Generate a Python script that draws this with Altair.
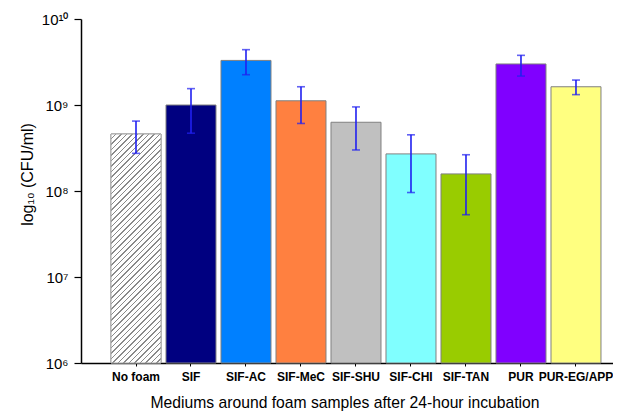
import math
import altair as alt
import pandas as pd

categories = ["No foam", "SIF", "SIF-AC", "SIF-MeC", "SIF-SHU", "SIF-CHI", "SIF-TAN", "PUR", "PUR-EG/APP"]
means = [4.6e8, 1.0e9, 3.3e9, 1.12e9, 6.3e8, 2.7e8, 1.58e8, 3.0e9, 1.63e9]
err_hi = [6.5e8, 1.55e9, 4.4e9, 1.63e9, 9.5e8, 4.5e8, 2.64e8, 3.78e9, 1.95e9]
err_lo = [2.74e8, 4.7e8, 2.25e9, 6.1e8, 3.0e8, 9.6e7, 5.3e7, 2.17e9, 1.32e9]
colors = ["#ffffff", "#000080", "#0080ff", "#ff8040", "#c0c0c0", "#80ffff", "#99cc00", "#8000ff", "#ffff80"]
tick_values = [1e6, 1e7, 1e8, 1e9, 1e10]
tick_labels = ["10\u2076", "10\u2077", "10\u2078", "10\u2079", "10\u00b9\u2070"]

W, H = 532, 344
base = 1e6
df = pd.DataFrame({"cat": categories, "mean": means, "hi": err_hi, "lo": err_lo,
                   "base": [base] * len(categories)})

# hatch pattern for "No foam" built as a hard-edged linear gradient
bar_w = 50.0
bar_h = H * (math.log10(means[0]) - 6) / 4
period, line = 5.5, 1.4
denom = bar_w * (1 + (bar_h / bar_w) ** 2)
stops = []
c = 0.0
total = bar_w + bar_h + period
while c < total:
    a = c / denom
    b = (c + period - line) / denom
    e = (c + period) / denom
    stops += [alt.GradientStop(offset=min(a, 1), color="#ffffff"),
              alt.GradientStop(offset=min(b, 1), color="#ffffff"),
              alt.GradientStop(offset=min(b, 1), color="#8a8a8a"),
              alt.GradientStop(offset=min(e, 1), color="#8a8a8a")]
    c += period
hatch = alt.LinearGradient(gradient="linear", stops=stops, x1=0, y1=0, x2=1, y2=bar_h / bar_w)

label_expr = " : ".join(
    f"datum.value == {v:.0f} ? '{t}'" for v, t in zip(tick_values, tick_labels)
) + " : ''"

font = "Liberation Sans"

x_enc = alt.X("cat:N", sort=categories,
              scale=alt.Scale(paddingInner=5 / 55, paddingOuter=0.382, align=0.714),
              axis=alt.Axis(title="Mediums around foam samples after 24-hour incubation",
                            labelAngle=0, labelFont=font, labelFontSize=12, labelFontWeight="bold",
                            labelColor="black", labelPadding=5, tickSize=3, tickColor="black",
                            domainColor="black", domainWidth=1.5,
                            titleFont=font, titleFontSize=15.7, titleFontWeight="normal",
                            titleColor="black", titleX=263.5, titleY=44,
                            titleBaseline="alphabetic", titleAlign="center"))
y_scale = alt.Scale(type="log", domain=[1e6, 1e10], nice=False)
y_enc = alt.Y("mean:Q", scale=y_scale,
              axis=alt.Axis(title="log\u2081\u2080 (CFU/ml)", values=tick_values, labelExpr=label_expr,
                            labelFont=font, labelFontSize=15, labelColor="black", labelPadding=6,
                            tickSize=7, tickColor="black", tickWidth=1.2, domainColor="black",
                            domainWidth=1.5, grid=False,
                            titleFont=font, titleFontSize=16, titleFontWeight="normal",
                            titleColor="black", titleAngle=270, titleX=-49, titleY=155,
                            titleBaseline="alphabetic", titleAlign="center"))

bars = alt.Chart(df).mark_bar(stroke="#808080", strokeWidth=1).encode(
    x=x_enc, y=y_enc, y2="base:Q",
    fill=alt.Fill("cat:N", scale=alt.Scale(domain=categories, range=colors), legend=None),
)
hatch_bar = alt.Chart(df).transform_filter(alt.datum.cat == categories[0]).mark_bar(
    fill=hatch, stroke="#a8a8a8", strokeWidth=1).encode(
    x=alt.X("cat:N", sort=categories), y=alt.Y("mean:Q"), y2="base:Q")

err_color = "#2020f0"
rule = alt.Chart(df).mark_rule(color=err_color, strokeWidth=1.6).encode(
    x=alt.X("cat:N", sort=categories), y=alt.Y("lo:Q"), y2="hi:Q")
cap_hi = alt.Chart(df).mark_tick(color=err_color, size=8, thickness=1.6).encode(
    x=alt.X("cat:N", sort=categories), y=alt.Y("hi:Q"))
cap_lo = alt.Chart(df).mark_tick(color=err_color, size=8, thickness=1.6).encode(
    x=alt.X("cat:N", sort=categories), y=alt.Y("lo:Q"))

chart = alt.layer(bars, hatch_bar, rule, cap_hi, cap_lo).properties(
    width=W, height=H,
    autosize=alt.AutoSizeParams(type="none"),
    padding={"left": 73, "top": 11, "right": 0, "bottom": 48},
    background="white",
).configure_view(stroke=None)

chart.save("out.html", embed_options={"renderer": "svg", "actions": False})
